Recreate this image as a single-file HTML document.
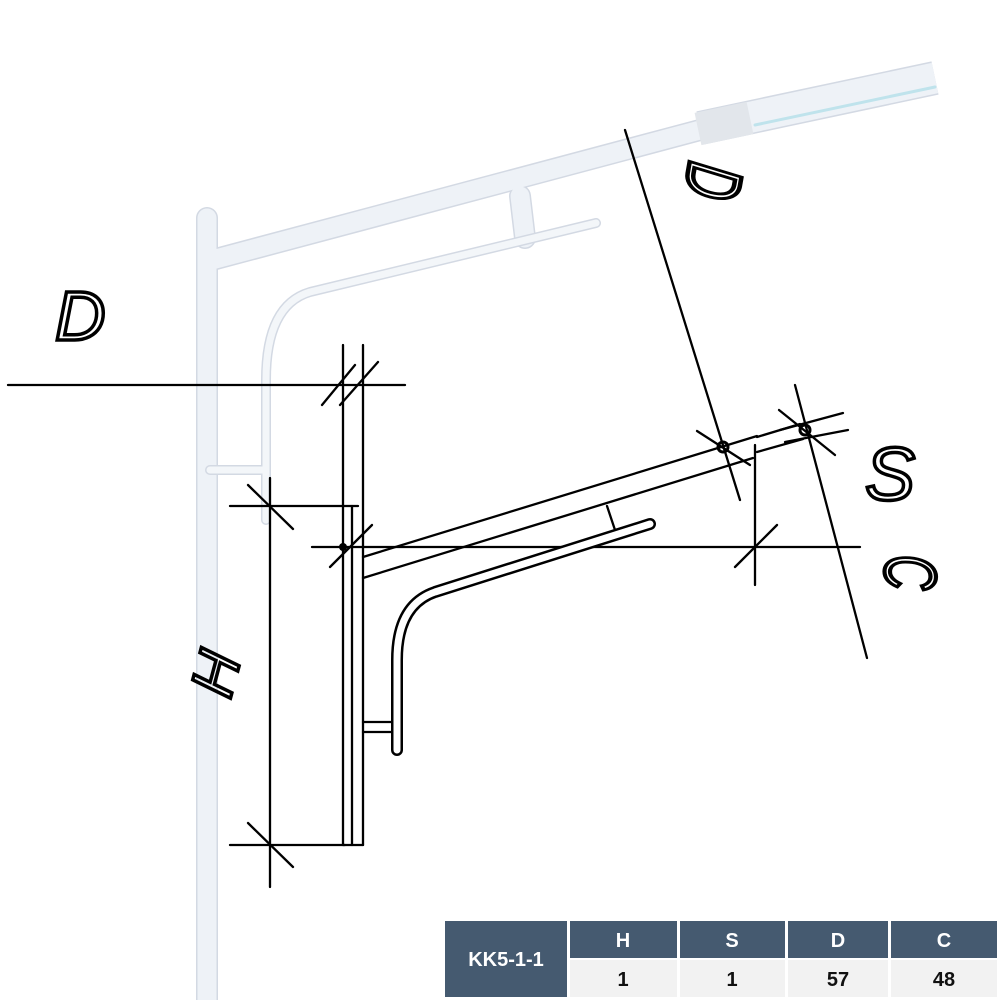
<!DOCTYPE html>
<html><head><meta charset="utf-8"><style>
html,body{margin:0;padding:0;background:#fff;}
svg{display:block}
</style></head><body>
<svg width="1000" height="1000" viewBox="0 0 1000 1000" xmlns="http://www.w3.org/2000/svg">
<g fill="none" stroke-linecap="round" stroke-linejoin="round">
 <g stroke="#d3d9e3" stroke-width="22">
  <line x1="207" y1="218" x2="207" y2="1000"/>
  <line x1="212" y1="260" x2="700" y2="130"/>
  <line x1="520" y1="196" x2="525" y2="238"/>
 </g>
 <g stroke="#eef2f7" stroke-width="19">
  <line x1="207" y1="218" x2="207" y2="1000"/>
  <line x1="212" y1="260" x2="700" y2="130"/>
  <line x1="520" y1="196" x2="525" y2="238"/>
 </g>
 <g stroke="#d3d9e3" stroke-width="10">
  <path d="M596 223 L310 292 Q266 305 266 380 L266 520"/>
  <line x1="210" y1="470" x2="266" y2="470"/>
 </g>
 <g stroke="#f3f6f9" stroke-width="7">
  <path d="M596 223 L310 292 Q266 305 266 380 L266 520"/>
  <line x1="210" y1="470" x2="266" y2="470"/>
 </g>
 <line x1="700" y1="128" x2="935" y2="78" stroke="#d3d9e3" stroke-width="34" stroke-linecap="butt"/>
 <line x1="700" y1="128" x2="935" y2="78" stroke="#eef2f7" stroke-width="31" stroke-linecap="butt"/>
 <line x1="755" y1="125" x2="935" y2="87" stroke="#bfe3ec" stroke-width="3"/>
 <line x1="698" y1="129" x2="750" y2="118" stroke="#e2e6eb" stroke-width="33" stroke-linecap="butt"/>
</g>

<g stroke="#000" stroke-width="2.3" fill="none" stroke-linecap="round">
 <line x1="8" y1="385" x2="405" y2="385"/>
 <line x1="343" y1="345" x2="343" y2="845"/>
 <line x1="363" y1="345" x2="363" y2="845"/>
 <line x1="352" y1="506" x2="352" y2="845"/>
 <line x1="343" y1="845" x2="363" y2="845"/>
 <line x1="322" y1="405" x2="355" y2="365"/>
 <line x1="340" y1="405" x2="378" y2="362"/>
 <line x1="270" y1="478" x2="270" y2="887"/>
 <line x1="230" y1="506" x2="358" y2="506"/>
 <line x1="230" y1="845" x2="345" y2="845"/>
 <line x1="248" y1="485" x2="293" y2="529"/>
 <line x1="248" y1="823" x2="293" y2="867"/>
 <line x1="312" y1="547" x2="860" y2="547"/>
 <line x1="330" y1="567" x2="372" y2="525"/>
 <line x1="735" y1="567" x2="777" y2="525"/>
 <line x1="755" y1="445" x2="755" y2="585"/>
 <line x1="363" y1="557" x2="757" y2="436"/>
 <line x1="363" y1="578" x2="753" y2="458"/>
 <line x1="757" y1="437" x2="800" y2="424"/>
 <line x1="757" y1="452" x2="803" y2="439"/>
 <line x1="607" y1="506" x2="615" y2="530"/>
 <line x1="363" y1="722" x2="392" y2="722"/>
 <line x1="363" y1="732" x2="392" y2="732"/>
 <line x1="625" y1="130" x2="740" y2="500"/>
 <line x1="697" y1="431" x2="750" y2="465"/>
 <line x1="795" y1="385" x2="867" y2="658"/>
 <line x1="779" y1="410" x2="835" y2="455"/>
 <line x1="780" y1="430" x2="843" y2="413"/>
 <line x1="785" y1="442" x2="848" y2="430"/>
</g>
<path d="M650 524 L435 592 Q397 605 397 660 L397 750" fill="none" stroke="#000" stroke-width="12" stroke-linecap="round"/>
<path d="M650 524 L435 592 Q397 605 397 660 L397 750" fill="none" stroke="#fff" stroke-width="7" stroke-linecap="round"/>
<circle cx="343" cy="547" r="4" fill="#000"/>
<circle cx="723" cy="447" r="5" fill="none" stroke="#000" stroke-width="3"/>
<circle cx="805" cy="430" r="5" fill="none" stroke="#000" stroke-width="3"/>

<g font-family="Liberation Sans, sans-serif" font-style="italic" fill="none" stroke="#000" stroke-width="3.5" font-size="70">
 <text x="55" y="340">D</text>
 <text x="865" y="500" font-size="75">S</text>
 <text transform="translate(230,700) rotate(-75)" font-size="60">H</text>
 <text transform="translate(690,160) rotate(100) scale(0.8,1.3)" font-size="60">D</text>
 <text transform="translate(885,555) rotate(90) scale(0.8,1.2)" font-size="60">C</text>
</g>

<g font-family="Liberation Sans, sans-serif" font-weight="bold" font-size="20" text-anchor="middle">
 <rect x="445" y="921" width="122" height="76" fill="#455a70"/>
 <rect x="570" y="921" width="107" height="37" fill="#455a70"/>
 <rect x="680" y="921" width="105" height="37" fill="#455a70"/>
 <rect x="788" y="921" width="100" height="37" fill="#455a70"/>
 <rect x="891" y="921" width="106" height="37" fill="#455a70"/>
 <rect x="570" y="960" width="107" height="37" fill="#f2f2f2"/>
 <rect x="680" y="960" width="105" height="37" fill="#f2f2f2"/>
 <rect x="788" y="960" width="100" height="37" fill="#f2f2f2"/>
 <rect x="891" y="960" width="106" height="37" fill="#f2f2f2"/>
 <g fill="#fff">
  <text x="506" y="966">KK5-1-1</text>
  <text x="623" y="947">H</text>
  <text x="732" y="947">S</text>
  <text x="838" y="947">D</text>
  <text x="944" y="947">C</text>
 </g>
 <g fill="#111">
  <text x="623" y="986">1</text>
  <text x="732" y="986">1</text>
  <text x="838" y="986">57</text>
  <text x="944" y="986">48</text>
 </g>
</g>
</svg>
</body></html>
